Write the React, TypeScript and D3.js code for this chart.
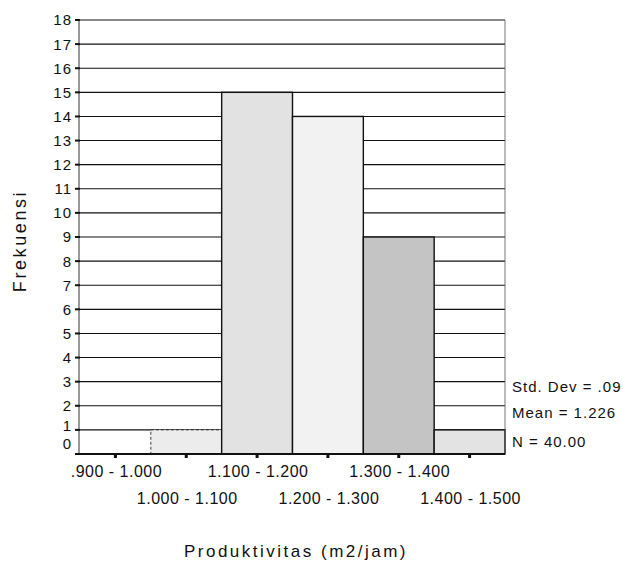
import { range, scaleLinear } from "d3"

const binStarts = [0.9, 1.0, 1.1, 1.2, 1.3, 1.4]
const binLabels = [".900 - 1.000", "1.000 - 1.100", "1.100 - 1.200", "1.200 - 1.300", "1.300 - 1.400", "1.400 - 1.500"]
const counts = [0, 1, 15, 14, 9, 1]
const binFills = ["#ffffff", "#ececec", "#e2e2e2", "#f2f2f2", "#c4c4c4", "#e3e3e3"]
const yTicks = range(0, 19)
const stats = ["Std. Dev = .09", "Mean = 1.226", "N = 40.00"]
const binWidth = 0.1

const font = "'Liberation Sans', Arial, sans-serif"

const App = () => {
    const width = 623
    const height = 566
    const left = 80
    const right = 505
    const top = 20
    const bottom = 454

    const x = scaleLinear().domain([0.9, 1.5]).range([left, right])
    const y = scaleLinear().domain([0, 18]).range([bottom, top])

    // the lowest two labels sit a little higher, as in the original
    const labelY = (t: number) => t === 0 ? y(0) - 5 : t === 1 ? y(1) + 1.6 : y(t) + 5.4

    return (
        <svg width={width} height={height}
            style={{position: 'absolute', left: 0, top: 0, background: '#fff'}}
            fontFamily={font}>
            {/* gridlines behind bars */}
            <g className="grid">
                {yTicks.filter(t => t > 0).map(t => (
                    <line key={t} x1={left} x2={right} y1={y(t)} y2={y(t)} stroke="#111" strokeWidth={1.1} />
                ))}
            </g>
            <g className="bars">
                {counts.map((c, i) => c > 0 && (
                    <rect key={i}
                        x={x(binStarts[i])}
                        y={y(c)}
                        width={x(binStarts[i] + binWidth) - x(binStarts[i])}
                        height={y(0) - y(c)}
                        fill={binFills[i]}
                        stroke="#111"
                        strokeWidth={i === 1 ? 0.8 : 1.4}
                        strokeDasharray={i === 1 ? "3 2" : undefined} />
                ))}
            </g>
            {/* frame */}
            <line x1={right} x2={right} y1={top} y2={bottom} stroke="#555" strokeWidth={0.8} />
            <line x1={left - 1} x2={left - 1} y1={top} y2={bottom} stroke="#333" strokeWidth={1} />
            <line x1={left - 2} x2={right} y1={bottom} y2={bottom} stroke="#111" strokeWidth={2} />

            <g className="yaxis" fontSize={15} letterSpacing={1} fill="#111">
                {yTicks.map(t => (
                    <g key={t}>
                        <line x1={left - 5} x2={left} y1={y(t)} y2={y(t)} stroke="#111" strokeWidth={2} />
                        <text x={72} y={labelY(t)} textAnchor="end">{t}</text>
                    </g>
                ))}
            </g>

            <g className="xaxis" fontSize={16} letterSpacing={0.5} fill="#111">
                {binLabels.map((label, i) => {
                    const cx = x(binStarts[i] + binWidth / 2)
                    return (
                        <g key={label}>
                            <rect x={cx - 1.5} y={bottom} width={3} height={4} fill="#111" />
                            <text x={cx + 1} y={i % 2 === 0 ? 477 : 504} textAnchor="middle">{label}</text>
                        </g>
                    )
                })}
            </g>

            <g className="stats" fontSize={15} letterSpacing={1} fill="#111">
                {stats.map((s, i) => (
                    <text key={s} x={512} y={[392, 418, 447][i]}>{s}</text>
                ))}
            </g>

            <text x={296} y={557} textAnchor="middle" fontSize={17} letterSpacing={2.5} fill="#111">
                Produktivitas (m2/jam)
            </text>
            <text transform="translate(26,241) rotate(-90)" textAnchor="middle" fontSize={18} letterSpacing={2.6} fill="#111">
                Frekuensi
            </text>
        </svg>
    )
}

export default App
